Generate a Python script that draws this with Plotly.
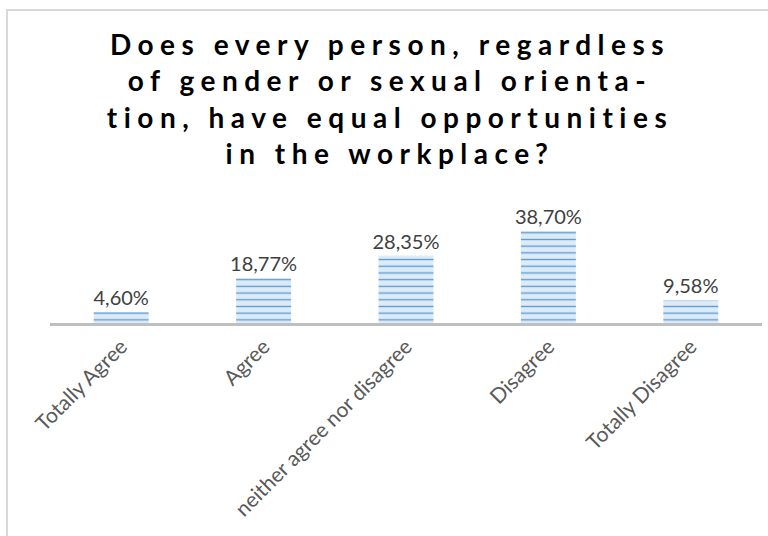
import plotly.graph_objects as go

# Survey answers and their shares (%)
categories = ["Totally Agree", "Agree", "neither agree nor disagree", "Disagree", "Totally Disagree"]
shares = [4.60, 18.77, 28.35, 38.70, 9.58]
share_labels = [f"{v:.2f}".replace(".", ",") + "%" for v in shares]

title_lines = [
    "Does every person, regardless",
    "of gender or sexual orienta-",
    "tion, have equal opportunities",
    "in the workplace?",
]

W, H = 768, 536
L, R, T, B = 50, 6, 216, 213
plot_w = W - L - R
plot_h = H - T - B
FONT = "Lato, Calibri, sans-serif"

fig = go.Figure(
    go.Bar(
        x=categories,
        y=shares,
        text=share_labels,
        textposition="outside",
        constraintext="none",
        cliponaxis=False,
        textfont=dict(family=FONT, size=20, color="#404040"),
        marker=dict(
            color="#DDEBF7",
            line=dict(width=0),
            pattern=dict(shape="-", bgcolor="#DDEBF7", fgcolor="#5B9BD5",
                         size=6.7, solidity=0.2, fillmode="replace"),
        ),
        hoverinfo="skip",
    )
)

# light frame around the chart area (left and top edges visible)
fig.add_shape(
    type="rect", xref="paper", yref="paper",
    x0=(7 - L) / plot_w, x1=3,
    y0=-4, y1=((H - B) - 10) / plot_h,
    line=dict(color="#D9D9D9", width=2), fillcolor="rgba(0,0,0,0)", layer="below",
)

fig.update_layout(
    width=W, height=H,
    margin=dict(l=L, r=R, t=T, b=B),
    paper_bgcolor="white", plot_bgcolor="white",
    showlegend=False,
    bargap=0.614,
    title=dict(
        text="<br>".join(title_lines),
        x=390 / W, xanchor="center", xref="container",
        y=1 - 55 / H, yanchor="top", yref="container",
        font=dict(family=FONT, size=28, color="#000000", weight="bold"),
    ),
    xaxis=dict(
        tickangle=-45,
        tickfont=dict(family=FONT, size=21, color="#595959"),
        showline=True, linecolor="#BFBFBF", linewidth=3,
        ticks="", showgrid=False, zeroline=False,
    ),
    yaxis=dict(range=[0, 45], visible=False, showgrid=False, zeroline=False),
)

# widen the title's letter spacing
post = """
var t = document.querySelector('.gtitle');
if (t) { t.setAttribute('letter-spacing', '6.5px'); t.style.letterSpacing = '6.5px'; }
"""

fig.write_html("out.html", post_script=post)
